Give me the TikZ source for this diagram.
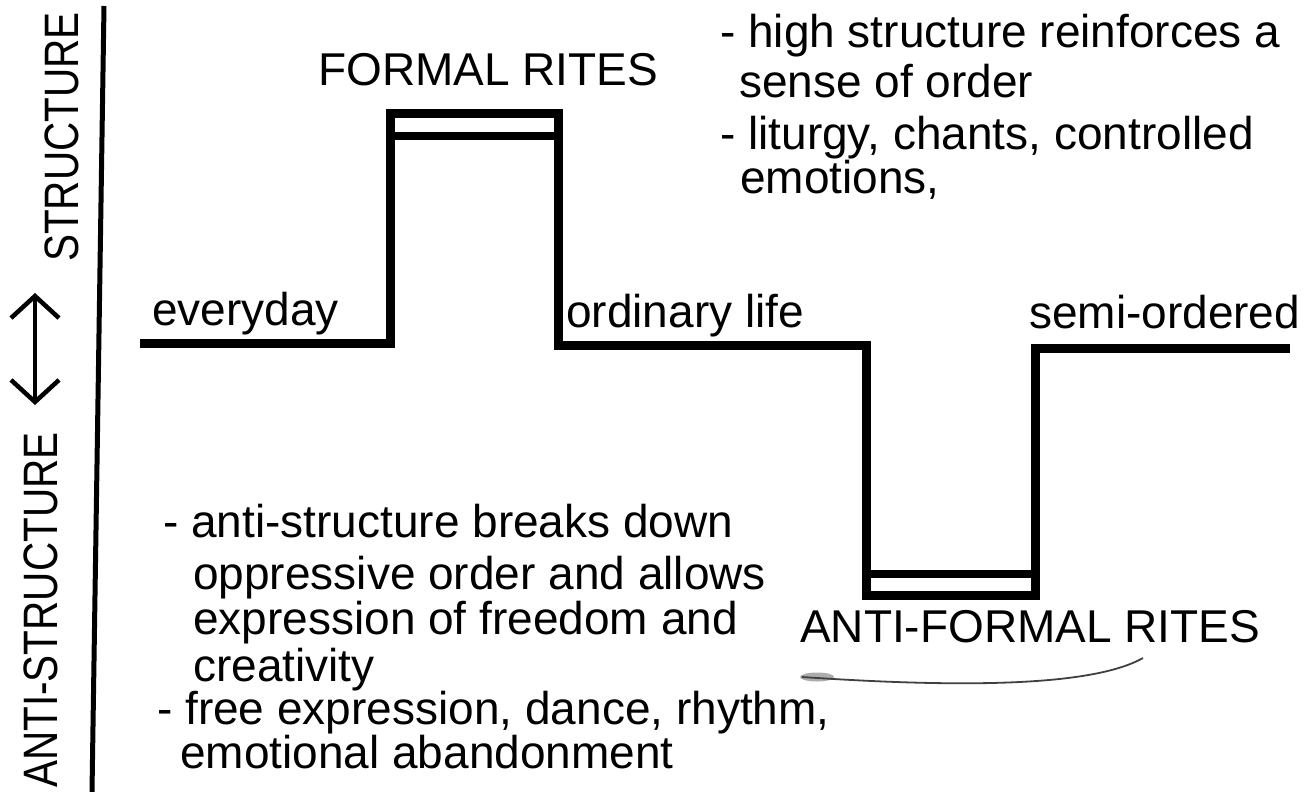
\documentclass[tikz,border=0pt]{standalone}
\usepackage{fontspec}
\setmainfont{Liberation Sans}
\usepackage{graphicx}
\usetikzlibrary{arrows.meta}
\newcommand\sqh[1]{\scalebox{1}[1.0]{#1}}
\newcommand\sqv[1]{\scalebox{0.88}[1.05]{#1}}
\begin{document}
\begin{tikzpicture}[x=1pt,y=-1pt,
  lbl/.style={inner sep=0pt, anchor=base west, font=\fontsize{46}{50}\selectfont},
  vlbl/.style={inner sep=0pt, anchor=base west, rotate=90, font=\fontsize{46}{50}\selectfont},
  stepline/.style={line width=9pt, line join=miter, line cap=butt},
  innerband/.style={line width=8pt, line cap=butt},
  rule/.style={line width=5pt},
  bothway/.style={line width=4.5pt, {Straight Barb[length=22pt,width=48pt]}-{Straight Barb[length=22pt,width=48pt]}},
  pen/.style={line width=1.8pt, black!75}
]
\useasboundingbox (0,0) rectangle (1304,792);

% left axis
\coordinate (r1) at (104,6);
\coordinate (r2) at (92,792);
\draw[rule] (r1) -- (r2);

\node[vlbl] (struct) at (78,262) {\sqv{STRUCTURE}};
\node[vlbl] (anti) at (57,788) {\sqv{ANTI-STRUCTURE}};
\coordinate (aT) at (35,293);
\coordinate (aB) at (35,405);
\draw[bothway] (aB) -- (aT);

% step line
\coordinate (p0) at (140,343);
\coordinate (p1) at (390,343);
\coordinate (p2) at (390,113);
\coordinate (p3) at (558,113);
\coordinate (p4) at (558,345);
\coordinate (p5) at (866,345);
\coordinate (p6) at (866,595);
\coordinate (p7) at (1035,595);
\coordinate (p8) at (1035,348);
\coordinate (p9) at (1290,348);
\draw[stepline] (p0) -- (p1) -- (p2) -- (p3) -- (p4) -- (p5) -- (p6) -- (p7) -- (p8) -- (p9);

% inner bands of the two rite boxes
\coordinate (t1) at (394,136);
\coordinate (t2) at (554,136);
\draw[innerband] (t1) -- (t2);
\coordinate (b1) at (870,574);
\coordinate (b2) at (1031,574);
\draw[innerband] (b1) -- (b2);

% level labels
\node[lbl] (formal) at (318,85) {\sqh{FORMAL RITES}};
\node[lbl] (everyday) at (152,325) {\sqh{everyday}};
\node[lbl] (ordinary) at (566,327) {\sqh{ordinary life}};
\node[lbl] (semi) at (1029,328) {\sqh{semi-ordered}};
\node[lbl] (antiformal) at (800,642) {\sqh{ANTI-FORMAL RITES}};

% pen underline
\coordinate (u0) at (802,677);
\coordinate (u1) at (1143,658);
\fill[gray!65] (817,677) ellipse [x radius=17, y radius=4.5];
\draw[pen] (u0) .. controls (950,687) and (1090,688) .. (u1);

% top-right notes
\node[lbl] (h1) at (720,48) {\sqh{- high structure reinforces a}};
\node[lbl] (h2) at (739,98) {\sqh{sense of order}};
\node[lbl] (h3) at (720,149) {\sqh{- liturgy, chants, controlled}};
\node[lbl] (h4) at (740,193) {\sqh{emotions,}};

% bottom-left notes
\node[lbl] (a1) at (163,537) {\sqh{- anti-structure breaks down}};
\node[lbl] (a2) at (193,589) {\sqh{oppressive order and allows}};
\node[lbl] (a3) at (193,634) {\sqh{expression of freedom and}};
\node[lbl] (a4) at (193,681) {\sqh{creativity}};
\node[lbl] (a5) at (157,724) {\sqh{- free expression, dance, rhythm,}};
\node[lbl] (a6) at (180,768) {\sqh{emotional abandonment}};
\end{tikzpicture}
\end{document}
